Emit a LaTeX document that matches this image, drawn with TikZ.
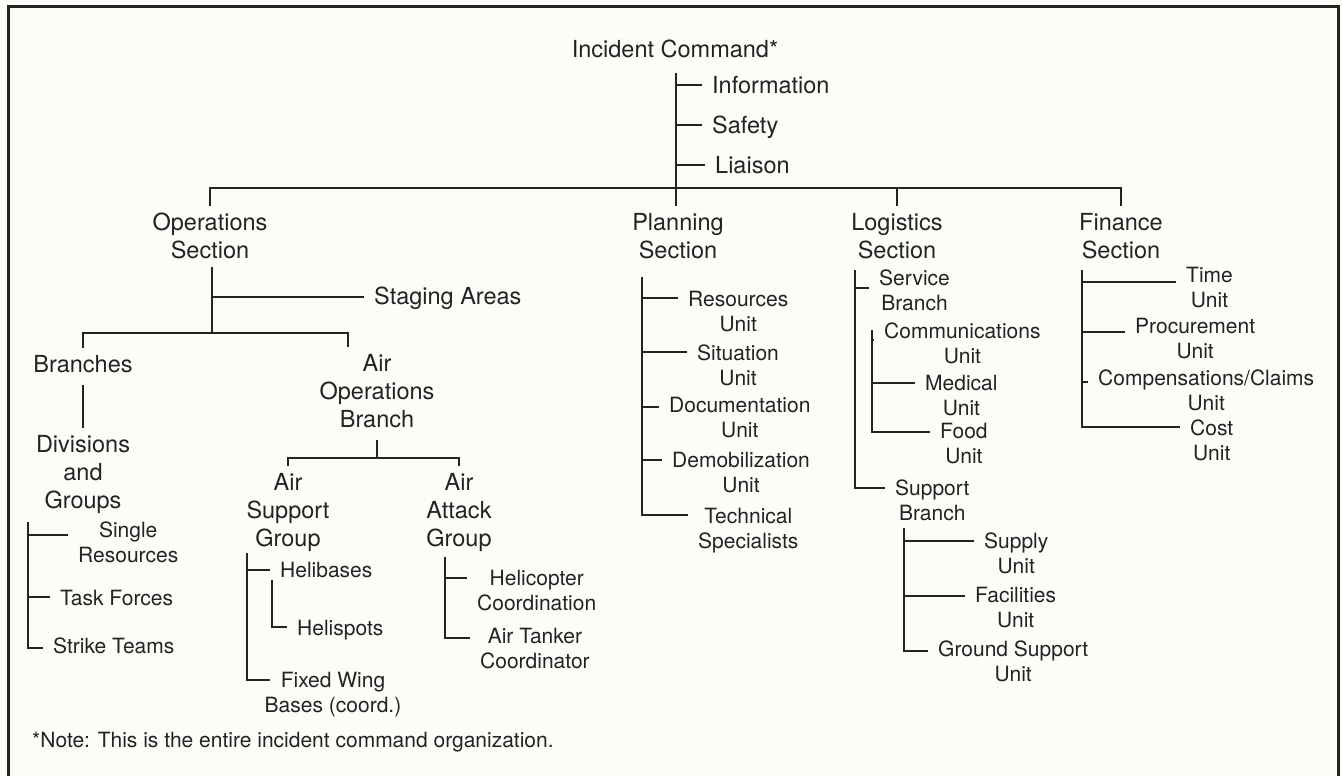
\documentclass[tikz,border=0pt]{standalone}
\usepackage{fontspec}
\setmainfont{TeX Gyre Heros}
\usepackage{xcolor}
\usepackage{tikz}

\definecolor{ink}{RGB}{35,35,35}
\definecolor{paper}{RGB}{252,252,249}
% first line of a stacked label carries the baseline
\newcommand{\chartrows}[1]{\begin{tabular}[t]{@{}c@{}}#1\end{tabular}}

\begin{document}
\begin{tikzpicture}[x=1pt,y=-1pt,
    every node/.style={text=ink,inner xsep=10pt,inner ysep=4pt},
    big/.style={font=\fontsize{23.5}{28}\selectfont},
    small/.style={font=\fontsize{21}{25.5}\selectfont},
    link/.style={draw=ink,line width=2.2pt}]
    \fill[paper] (0,0) rectangle (1342,776);
    \useasboundingbox (0,0) rectangle (1342,776);
    \draw[ink,line width=3pt] (8,776) -- (8,7) -- (1338,7) -- (1338,776);

    % command staff
    \node[big,anchor=base] (cmd) at (675,58) {Incident Command*};
    \coordinate (cmd-sp) at (676,73);
    \node[big,anchor=base west] (inf) at (702,93) {Information};
    \node[big,anchor=base west] (saf) at (702,133) {Safety};
    \node[big,anchor=base west] (lia) at (705,173) {Liaison};
    \foreach \c in {inf,saf,lia} \draw[link] (cmd-sp) |- ([yshift=8pt]\c.base west);

    % sections
    \node[big,anchor=base] (ops) at (210,230) {\chartrows{Operations\\Section}};
    \node[big,anchor=base] (plan) at (678,230) {\chartrows{Planning\\Section}};
    \node[big,anchor=base] (log) at (897,230) {\chartrows{Logistics\\Section}};
    \node[big,anchor=base] (fin) at (1121,230) {\chartrows{Finance\\Section}};
    \coordinate (top-bus) at (676,188);
    \draw[link] (cmd-sp) -- (cmd-sp |- plan.north);
    \draw[link] (ops.north) |- (top-bus) -| (fin.north);
    \draw[link] (log.north) -- (log.north |- top-bus);

    % operations
    \coordinate (ops-sp) at (212,267);
    \coordinate (ops-bus) at (212,333);
    \node[big,anchor=base west] (stg) at (364,304) {Staging Areas};
    \node[big,anchor=base] (br) at (83,372) {\chartrows{Branches}};
    \node[big,anchor=base] (aob) at (377,371) {\chartrows{Air\\Operations\\Branch}};
    \draw[link] (ops-sp) -- (ops-bus);
    \draw[link] (ops-sp) |- ([yshift=7pt]stg.base west);
    \draw[link] (br.north) |- (ops-bus) -| ([xshift=-29pt]aob.north);

    \node[big,anchor=base] (div) at (83,452) {\chartrows{Divisions\\and\\Groups}};
    \draw[link] (br.south) -- (br.south |- div.north);
    \coordinate (div-sp) at (28,522);
    \node[small,anchor=base west] (sgl) at (68,537) {\chartrows{Single\\Resources}};
    \node[small,anchor=base west] (tsk) at (50,605) {Task Forces};
    \node[small,anchor=base west] (stk) at (43,653) {Strike Teams};
    \foreach \c/\d in {sgl/2,tsk/8,stk/5}
      \draw[link] (div-sp) |- ([yshift=\d pt]\c.base west);

    \node[big,anchor=base] (asg) at (288,490) {\chartrows{Air\\Support\\Group}};
    \node[big,anchor=base] (aag) at (459,490) {\chartrows{Air\\Attack\\Group}};
    \coordinate (aob-bus) at (378,458);
    \draw[link] (aob.south) -- (aob.south |- aob-bus);
    \draw[link] (asg.north) |- (aob-bus) -| (aag.north);

    \coordinate (asg-sp) at (247,553);
    \node[small,anchor=base west] (hlb) at (270,577) {Helibases};
    \coordinate (hlb-sp) at (272,580);
    \node[small,anchor=base west] (hls) at (287,635) {Helispots};
    \node[small,anchor=base] (fwb) at (333,687) {\chartrows{Fixed Wing\\Bases (coord.)}};
    \draw[link] (asg-sp) |- ([yshift=7pt]hlb.base west);
    \draw[link] (asg-sp) |- ([xshift=15pt,yshift=7pt]fwb.base west);
    \draw[link] (hlb-sp) |- ([yshift=8pt]hls.base west);

    \coordinate (aag-sp) at (445,557);
    \node[small,anchor=base west] (hcp) at (467,585) {\chartrows{Helicopter\\Coordination}};
    \node[small,anchor=base west] (atc) at (470,643) {\chartrows{Air Tanker\\Coordinator}};
    \foreach \c/\d in {hcp/7,atc/5}
      \draw[link] (aag-sp) |- ([yshift=\d pt]\c.base west);

    % planning
    \coordinate (plan-sp) at (642,277);
    \node[small,anchor=base west] (res) at (678,306) {\chartrows{Resources\\Unit}};
    \node[small,anchor=base west] (sit) at (687,360) {\chartrows{Situation\\Unit}};
    \node[small,anchor=base west] (doc) at (659,412) {\chartrows{Documentation\\Unit}};
    \node[small,anchor=base west] (dem) at (662,467) {\chartrows{Demobilization\\Unit}};
    \node[small,anchor=base west] (tec) at (688,523) {\chartrows{Technical\\Specialists}};
    \foreach \c/\d in {res/8,sit/8,doc/5,dem/7,tec/8}
      \draw[link] (plan-sp) |- ([yshift=\d pt]\c.base west);

    % logistics
    \coordinate (log-sp) at (855,270);
    \node[small,anchor=base west] (svc) at (869,285) {\chartrows{Service\\Branch}};
    \node[small,anchor=base west] (spb) at (885,495) {\chartrows{Support\\Branch}};
    \foreach \c/\d in {svc/-3,spb/7}
      \draw[link] (log-sp) |- ([yshift=\d pt]\c.base west);

    \coordinate (svc-sp) at (872,330);
    \node[small,anchor=base west] (com) at (874,338) {\chartrows{Communications\\Unit}};
    \node[small,anchor=base west] (med) at (915,390) {\chartrows{Medical\\Unit}};
    \node[small,anchor=base west] (fod) at (930,438) {\chartrows{Food\\Unit}};
    \foreach \c/\d in {com/-2,med/7,fod/6}
      \draw[link] (svc-sp) |- ([yshift=\d pt]\c.base west);

    \coordinate (spb-sp) at (904,528);
    \node[small,anchor=base west] (sup) at (974,548) {\chartrows{Supply\\Unit}};
    \node[small,anchor=base west] (fac) at (965,602) {\chartrows{Facilities\\Unit}};
    \node[small,anchor=base west] (gsu) at (928,656) {\chartrows{Ground Support\\Unit}};
    \foreach \c/\d in {sup/7,fac/6,gsu/5}
      \draw[link] (spb-sp) |- ([yshift=\d pt]\c.base west);

    % finance
    \coordinate (fin-sp) at (1082,270);
    \node[small,anchor=base west] (tim) at (1176,282) {\chartrows{Time\\Unit}};
    \node[small,anchor=base west] (pro) at (1125,333) {\chartrows{Procurement\\Unit}};
    \node[small,anchor=base west] (cmp) at (1088,385) {\chartrows{Compensations/Claims\\Unit}};
    \node[small,anchor=base west] (cst) at (1180,435) {\chartrows{Cost\\Unit}};
    \foreach \c/\d in {tim/0,pro/1,cmp/3,cst/8}
      \draw[link] (fin-sp) |- ([yshift=\d pt]\c.base west);

    \node[small,anchor=base west] (note) at (22,747) {*Note: This is the entire incident command organization.};
\end{tikzpicture}
\end{document}
